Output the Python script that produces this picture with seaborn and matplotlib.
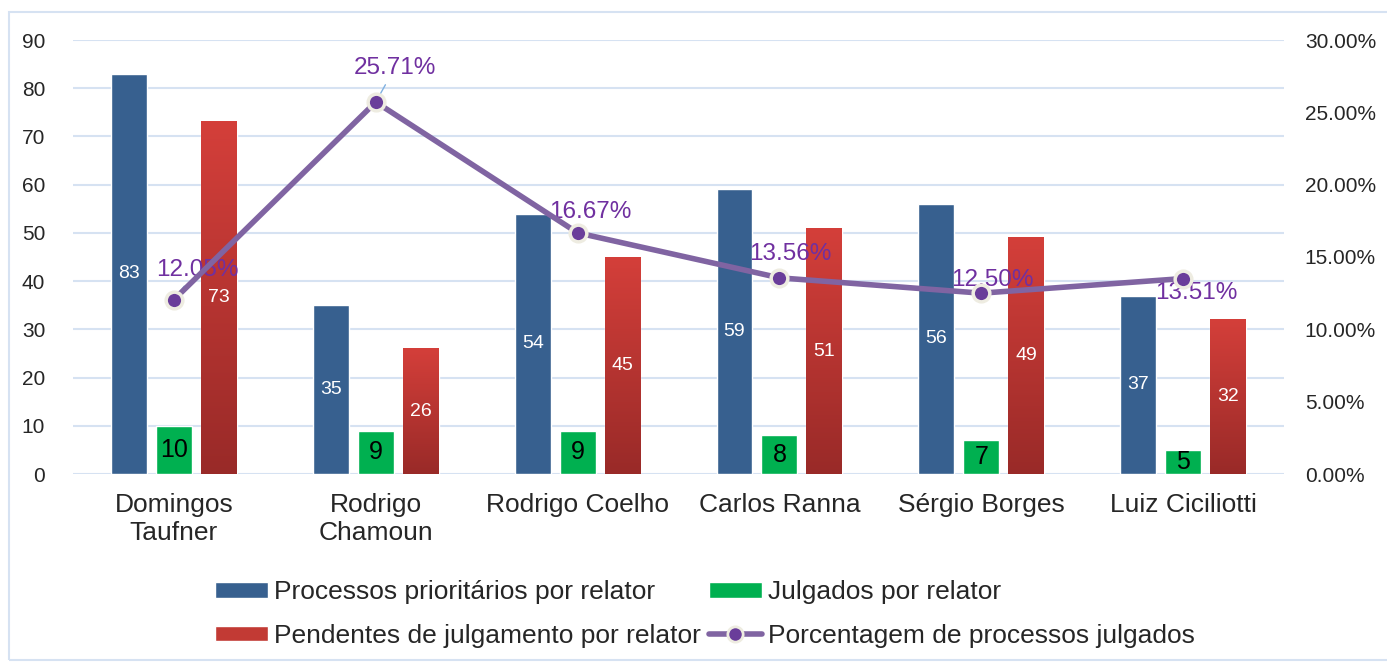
import numpy as np
import pandas as pd
import matplotlib
matplotlib.use("Agg")
import matplotlib.pyplot as plt
from matplotlib.patches import Patch, Rectangle
from matplotlib.lines import Line2D
from matplotlib.colors import LinearSegmentedColormap
import seaborn as sns

# dados
relatores = ["Domingos\nTaufner", "Rodrigo\nChamoun", "Rodrigo Coelho",
             "Carlos Ranna", "Sérgio Borges", "Luiz Ciciliotti"]
prioritarios = [83, 35, 54, 59, 56, 37]
julgados = [10, 9, 9, 8, 7, 5]
pendentes = [73, 26, 45, 51, 49, 32]
porcentagem = [12.05, 25.71, 16.67, 13.56, 12.50, 13.51]

series = ["Processos prioritários por relator", "Julgados por relator",
          "Pendentes de julgamento por relator"]
nome_linha = "Porcentagem de processos julgados"
ticks_esq = [0, 10, 20, 30, 40, 50, 60, 70, 80, 90]
ticks_dir = [0, 5, 10, 15, 20, 25, 30]

cor_azul = "#37608F"
cor_verde = "#00B050"
cor_vermelho = "#C23A34"
cor_linha = "#8064A2"
cor_rotulo = "#7030A0"
cor_grade = "#D6E2F2"

df = pd.DataFrame({
    "relator": relatores * 3,
    "serie": np.repeat(series, len(relatores)),
    "valor": prioritarios + julgados + pendentes,
})

sns.set_theme(style="white")
plt.rcParams["font.family"] = ["Liberation Sans", "DejaVu Sans"]

fig = plt.figure(figsize=(13.87, 6.66), dpi=100)
ax = fig.add_axes([73 / 1387, 192 / 666, 1211 / 1387, 434 / 666])

sns.barplot(data=df, x="relator", y="valor", hue="serie",
            palette=[cor_azul, cor_verde, cor_vermelho], saturation=1,
            width=0.667, gap=0.2, ax=ax, legend=False, zorder=2)

# degradê nas barras vermelhas
cmap_verm = LinearSegmentedColormap.from_list("verm", ["#D43F3A", "#992A28"])
grad = np.linspace(0, 1, 256).reshape(-1, 1)
for barra in ax.containers[2]:
    x0, w, h = barra.get_x(), barra.get_width(), barra.get_height()
    barra.set_facecolor("none")
    ax.imshow(grad, cmap=cmap_verm, extent=[x0, x0 + w, 0, h],
              aspect="auto", origin="upper", zorder=2.1)

ax.bar_label(ax.containers[0], label_type="center", color="white", fontsize=14)
ax.bar_label(ax.containers[1], label_type="center", color="black", fontsize=18)
ax.bar_label(ax.containers[2], label_type="center", color="white", fontsize=14)

ax.set_xlim(-0.5, len(relatores) - 0.5)
ax.set_ylim(0, 90)
ax.set_yticks(ticks_esq)
ax.set_axisbelow(True)
ax.yaxis.grid(True, color=cor_grade, linewidth=1.5)
ax.set_xlabel("")
ax.set_ylabel("")
ax.tick_params(axis="y", length=0, pad=20, labelsize=15)
ax.tick_params(axis="x", length=0, pad=14, labelsize=19)
for s in ax.spines.values():
    s.set_visible(False)

# eixo secundário com a porcentagem
ax2 = ax.twinx()
sns.lineplot(x=np.arange(len(relatores)), y=porcentagem, ax=ax2,
             color=cor_linha, linewidth=4, marker="o", markersize=12,
             markerfacecolor="#6A3D9A", markeredgecolor="#EEECE1",
             markeredgewidth=2.5, zorder=5)
ax2.set_ylim(0, 30)
ax2.set_yticks(ticks_dir)
ax2.set_yticklabels([f"{t:.2f}%" for t in ticks_dir])
ax2.tick_params(axis="y", length=0, pad=15, labelsize=15)
ax2.set_xlim(-0.5, len(relatores) - 0.5)
ax2.grid(False)
for s in ax2.spines.values():
    s.set_visible(False)

desloc = [(23, 30), (19, 34), (13, 21), (11, 24), (11, 13), (13, -14)]
for i, p in enumerate(porcentagem):
    props = None
    if i in (0, 1):
        props = dict(arrowstyle="-", color="#7FB0E0", lw=1, shrinkA=2, shrinkB=2)
    ax2.annotate(f"{p:.2f}%", xy=(i, p), xytext=desloc[i],
                 textcoords="offset pixels", ha="center", va="center",
                 color=cor_rotulo, fontsize=17.5, zorder=4, arrowprops=props)

# legenda
handles = [
    Patch(facecolor=cor_azul, label=series[0]),
    Patch(facecolor=cor_vermelho, label=series[2]),
    Patch(facecolor=cor_verde, label=series[1]),
    Line2D([], [], color=cor_linha, linewidth=4, marker="o", markersize=11,
           markerfacecolor="#6A3D9A", markeredgecolor="#EEECE1",
           markeredgewidth=2, label=nome_linha),
]
fig.legend(handles=handles, ncol=2, loc="center",
           bbox_to_anchor=(705 / 1387, 1 - 614 / 666), frameon=False,
           fontsize=19, handlelength=2.0, handleheight=0.53,
           handletextpad=0.23, columnspacing=0.3, labelspacing=0.74)

# moldura
fig.patches.append(Rectangle((9 / 1387, 6 / 666), 1.2, 648 / 666,
                             transform=fig.transFigure, fill=False,
                             edgecolor=cor_grade, linewidth=1.5))

fig.savefig("out.png", dpi=100)
